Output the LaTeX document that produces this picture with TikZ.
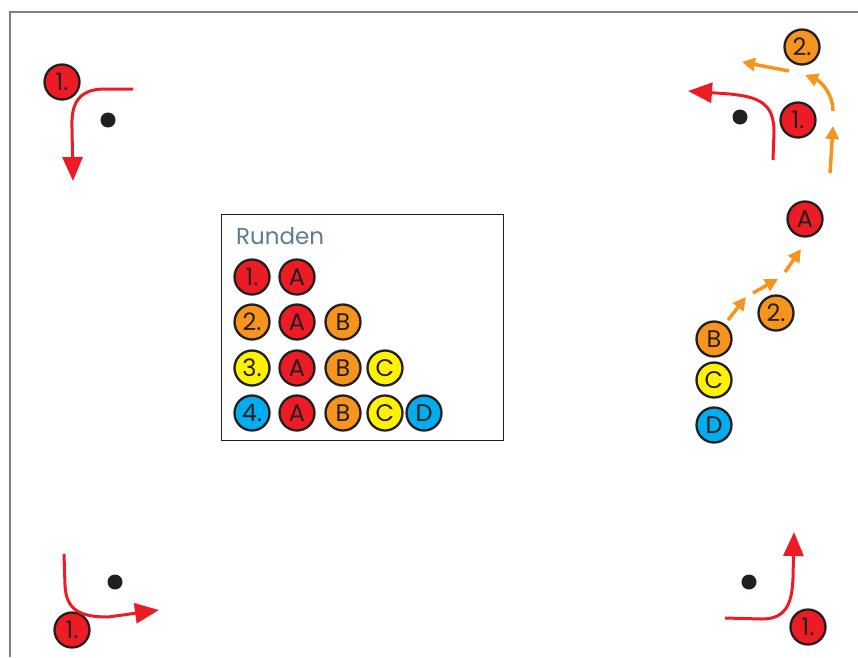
\documentclass[tikz,border=0pt]{standalone}
\usepackage{fontspec}
\setmainfont{Poppins}
\usetikzlibrary{arrows.meta}
\definecolor{cred}{HTML}{ED1C24}
\definecolor{corange}{HTML}{F7941D}
\definecolor{cyellow}{HTML}{FFF200}
\definecolor{cblue}{HTML}{00AEEF}
\definecolor{cdark}{HTML}{231F20}
\definecolor{ctitle}{HTML}{5A7D90}
\definecolor{cborder}{HTML}{808080}
\tikzset{
  disc/.style={circle, draw=cdark, line width=2.3pt, minimum size=35pt, inner sep=0pt,
    font=\fontsize{24}{24}\selectfont, text=cdark},
  rd/.style={disc, fill=cred},
  od/.style={disc, fill=corange},
  yd/.style={disc, fill=cyellow},
  bd/.style={disc, fill=cblue},
  cone/.style={circle, fill=cdark, minimum size=15pt, inner sep=0pt},
  redarrow/.style={draw=cred, line width=3pt, -{Triangle[width=20pt,length=24pt]}},
  orarrow/.style={draw=corange, line width=3.5pt, -{Triangle[width=13pt,length=13pt]}},
}
\begin{document}
\begin{tikzpicture}[x=1pt,y=-1pt]
\useasboundingbox (0,0) rectangle (858,657);
% field border
\draw[cborder, line width=2pt] (10,657) -- (10,12) -- (858,12);

% top-left
\node[cone] (dtl) at (108,120) {};
\node[rd] (tl1) at (62,82) {1.};
\coordinate (tla) at (133,89);
\coordinate (tlb) at (73,181);
\draw[redarrow] (tla) -- (105,89) .. controls (78,89) and (71,104) .. (72,128) -- (tlb);

% top-right
\node[cone] (dtr) at (740,117) {};
\node[rd] (tr1) at (798,120) {1.};
\node[od] (tr2) at (802,47) {2.};
\coordinate (tra) at (773,160);
\coordinate (trb) at (688,91);
\draw[redarrow] (tra) -- (774,132) .. controls (774,104) and (760,97) .. (730,94) -- (trb);
\coordinate (o1a) at (830,173); \coordinate (o1b) at (833,126);
\coordinate (o2a) at (833,111); \coordinate (o2b) at (805,75);
\coordinate (o3a) at (789,71);  \coordinate (o3b) at (742,62);
\draw[orarrow] (o1a) -- (o1b);
\draw[orarrow] (o2a) .. controls (833,95) and (822,82) .. (o2b);
\draw[orarrow] (o3a) -- (o3b);

% right middle
\node[rd] (rA) at (805,219) {A};
\node[od] (r2) at (776,313) {2.};
\node[od] (rB) at (714,339) {B};
\node[yd] (rC) at (714,380) {C};
\node[bd] (rD) at (714,425) {D};
\coordinate (m1a) at (728,320); \coordinate (m1b) at (746,297);
\coordinate (m2a) at (753,293); \coordinate (m2b) at (778,279);
\coordinate (m3a) at (785,272); \coordinate (m3b) at (801,249);
\draw[orarrow] (m1a) -- (m1b);
\draw[orarrow] (m2a) -- (m2b);
\draw[orarrow] (m3a) -- (m3b);

% legend
\draw[cdark, line width=1pt] (221,214) rectangle (503,440);
\node[anchor=west, text=ctitle, font=\fontsize{23}{23}\selectfont, inner sep=0pt] (title) at (236,236) {Runden};
\node[rd] (l11) at (252,277) {1.};
\node[rd] (l1A) at (297,277) {A};
\node[od] (l22) at (252,322) {2.};
\node[rd] (l2A) at (297,322) {A};
\node[od] (l2B) at (343,322) {B};
\node[yd] (l33) at (252,368) {3.};
\node[rd] (l3A) at (297,368) {A};
\node[od] (l3B) at (343,368) {B};
\node[yd] (l3C) at (385,368) {C};
\node[bd] (l44) at (252,413) {4.};
\node[rd] (l4A) at (297,413) {A};
\node[od] (l4B) at (343,413) {B};
\node[yd] (l4C) at (385,413) {C};
\node[bd] (l4D) at (424,413) {D};

% bottom-left
\node[cone] (dbl) at (115,582) {};
\node[rd] (bl1) at (72,630) {1.};
\coordinate (bla) at (64,554);
\coordinate (blb) at (159,610);
\draw[redarrow] (bla) -- (65,585) .. controls (66,610) and (80,617) .. (108,617) -- (blb);

% bottom-right
\node[cone] (dbr) at (749,582) {};
\node[rd] (br1) at (808,627) {1.};
\coordinate (bra) at (725,618);
\coordinate (brb) at (794,532);
\draw[redarrow] (bra) -- (762,619) .. controls (787,619) and (792,602) .. (793,578) -- (brb);
\end{tikzpicture}
\end{document}
